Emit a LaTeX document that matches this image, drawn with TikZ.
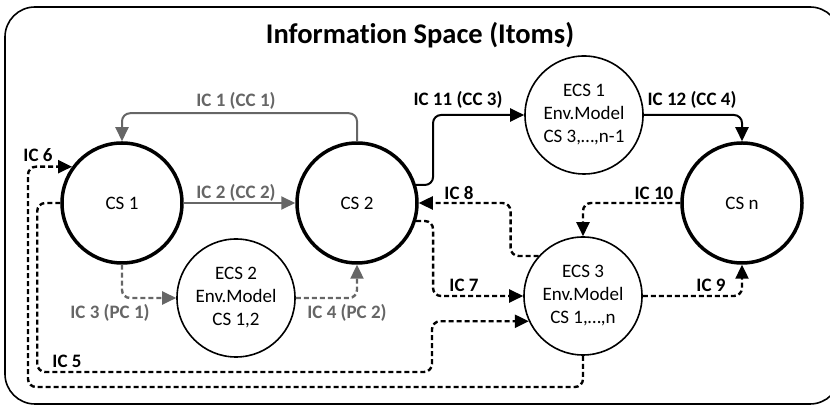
\documentclass[tikz,border=0pt]{standalone}
\usepackage{fontspec}
\setmainfont{Carlito}[Ligatures=NoCommon]
\usepackage{tikz}
\usetikzlibrary{arrows.meta}
\definecolor{icgray}{gray}{0.4}

\begin{document}
\begin{tikzpicture}[x=1pt,y=1pt,line cap=round,line join=round,
  >={Triangle[length=14pt,width=13pt]},
  cs/.style={circle,draw,line width=3.5pt,minimum size=120pt,inner sep=0pt,font=\fontsize{19}{23}\selectfont},
  ecs/.style={circle,draw,line width=1.6pt,minimum size=118pt,inner sep=0pt,align=center,font=\fontsize{19}{23}\selectfont},
  link/.style={->,line width=2pt,rounded corners=8pt},
  glink/.style={link,icgray},
  dlink/.style={link,line width=2.4pt,line cap=butt,dash pattern=on 5pt off 3pt},
  gdlink/.style={dlink,icgray},
  lbl/.style={font=\fontsize{19}{23}\selectfont\bfseries},
  glbl/.style={lbl,text=icgray}]
\clip (0,0) rectangle (830,406);
\draw[line width=1.6pt,rounded corners=30pt] (5,2) rectangle (840,399);
\node[font=\fontsize{28.5}{34}\selectfont\bfseries] (title) at (420,371) {Information Space (Itoms)};
% systems
\node[cs] (cs1) at (122,203) {CS 1};
\node[cs] (cs2) at (357,203) {CS 2};
\node[cs] (csn) at (742,203) {CS n};
\node[ecs] (ecs1) at (584,291) {ECS 1\\Env.Model\\CS 3,\ldots,n-1};
\node[ecs] (ecs2) at (236,108) {ECS 2\\Env.Model\\CS 1,2};
\node[ecs] (ecs3) at (583,110) {ECS 3\\Env.Model\\CS 1,\ldots,n};
% gray connections
\draw[glink] (cs2.north) -- ++(0,28) -| (cs1.north);
\draw[glink] (cs1.east) -- (cs2.west);
\draw[gdlink] (cs1.south) |- (ecs2.west);
\draw[gdlink] (ecs2.east) -| (cs2.south);
% black connections
\draw[dlink] (cs1.west) -- ++(-23,0) |- (432,34) |- (ecs3.205);
\draw[dlink] (ecs3.south) |- (28,19) |- (cs1.144);
\draw[dlink] (cs2.-17) -- ++(17,0) |- (ecs3.west);
\draw[dlink] (ecs3.138) -- ++(-28,0) |- (cs2.east);
\draw[dlink] (ecs3.east) -| (csn.south);
\draw[dlink] (csn.west) -| (ecs3.north);
\draw[link] (cs2.17) -- ++(17,0) |- (ecs1.west);
\draw[link] (ecs1.east) -| (csn.north);
% labels
\node[glbl] (l1) at (236,305) {IC 1 (CC 1)};
\node[glbl] (l2) at (236,213) {IC 2 (CC 2)};
\node[glbl] (l3) at (110,93) {IC 3 (PC 1)};
\node[glbl] (l4) at (347,93) {IC 4 (PC 2)};
\node[lbl] (l5) at (67,45) {IC 5};
\node[lbl] (l6) at (38,251) {IC 6};
\node[lbl] (l7) at (464,121) {IC 7};
\node[lbl] (l8) at (459,213) {IC 8};
\node[lbl] (l9) at (711,121) {IC 9};
\node[lbl] (l10) at (654,213) {IC 10};
\node[lbl] (l11) at (458,306) {IC 11 (CC 3)};
\node[lbl] (l12) at (692,306) {IC 12 (CC 4)};
\end{tikzpicture}
\end{document}
